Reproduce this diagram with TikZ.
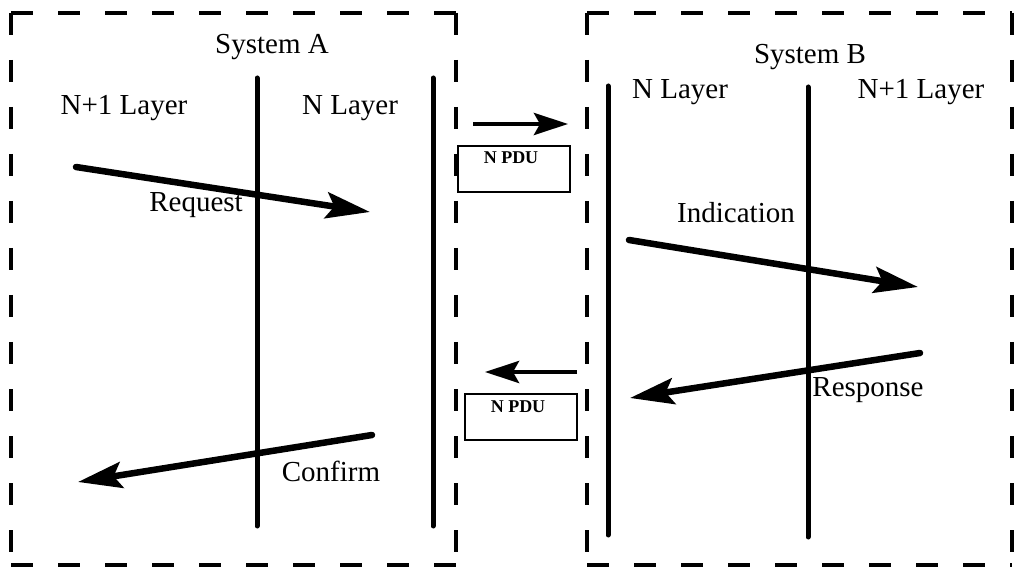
\documentclass[tikz,border=0pt]{standalone}
\usepackage{fontspec}
\setmainfont{Liberation Serif}
\usetikzlibrary{arrows.meta}
\begin{document}
\begin{tikzpicture}[x=1pt,y=-1pt,
  frame/.style={line width=3.2pt,dash pattern=on 22pt off 25pt},
  layerline/.style={line width=5pt,line cap=round},
  prim/.style={line width=6.5pt,line cap=round,-{Stealth[length=44pt,width=26pt,inset=8pt]}},
  pdu/.style={line width=4.5pt,-{Stealth[length=34pt,width=22pt,inset=6pt]}},
  pdubox/.style={draw,line width=2.8pt,minimum width=112pt,minimum height=46pt,inner sep=0pt},
  lbl/.style={font=\fontsize{29}{31}\selectfont,inner sep=0pt},
  pdutext/.style={font=\bfseries\fontsize{18}{19}\selectfont,inner sep=0pt}]
\useasboundingbox (0,0) rectangle (1023,569);

% system frames
\foreach \l/\t/\r/\b in {11/13/456/565, 587/13/1012/565}{
  \draw[frame] (\l,\t) -- (\r,\t);
  \draw[frame] (\r,\t) -- (\r,\b);
  \draw[frame] (\l,\t) -- (\l,\b);
  \draw[frame] (\l,\b) -- (\r,\b);
}

% layer boundaries
\coordinate (a1t) at (257,78);  \coordinate (a1b) at (257,526);
\coordinate (a2t) at (433,78);  \coordinate (a2b) at (433,526);
\coordinate (b1t) at (608,86);  \coordinate (b1b) at (608,535);
\coordinate (b2t) at (808,87);  \coordinate (b2b) at (808,537);
\draw[layerline] (a1t) -- (a1b);
\draw[layerline] (a2t) -- (a2b);
\draw[layerline] (b1t) -- (b1b);
\draw[layerline] (b2t) -- (b2b);

% titles and layer names
\node[lbl] (sysA) at (272,47) {System A};
\node[lbl] (a_np1) at (124,108) {N+1 Layer};
\node[lbl] (a_n) at (350,108) {N Layer};
\node[lbl] (sysB) at (810,57) {System B};
\node[lbl] (b_n) at (680,92) {N Layer};
\node[lbl] (b_np1) at (921,92) {N+1 Layer};

% service primitives
\coordinate (reqS) at (76,167);  \coordinate (reqE) at (370,212);
\coordinate (indS) at (629,240); \coordinate (indE) at (918,287);
\coordinate (resS) at (920,353); \coordinate (resE) at (630,398);
\coordinate (conS) at (372,435); \coordinate (conE) at (78,482);
\draw[prim] (reqS) -- (reqE);
\draw[prim] (indS) -- (indE);
\draw[prim] (resS) -- (resE);
\draw[prim] (conS) -- (conE);
\node[lbl] (req) at (196,205) {Request};
\node[lbl] (ind) at (736,213) {Indication};
\node[lbl] (res) at (868,390) {Response};
\node[lbl] (con) at (331,471) {Confirm};

% protocol data units between the systems
\coordinate (p1S) at (473,124); \coordinate (p1E) at (568,124);
\coordinate (p2S) at (577,372); \coordinate (p2E) at (485,372);
\draw[pdu] (p1S) -- (p1E);
\draw[pdu] (p2S) -- (p2E);
\node[pdubox] (pdu1) at (514,169) {};
\node[pdutext] (pdu1t) at (511,158) {N PDU};
\node[pdubox] (pdu2) at (521,417) {};
\node[pdutext] (pdu2t) at (518,407) {N PDU};
\end{tikzpicture}
\end{document}
